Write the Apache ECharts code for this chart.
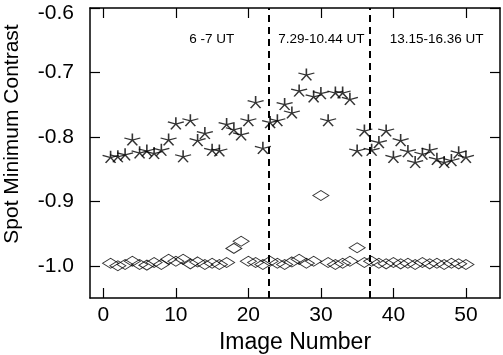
<!DOCTYPE html>
<html>
<head>
<meta charset="utf-8">
<style>
  html, body { margin: 0; padding: 0; background: #fff; }
  #chart { width: 503px; height: 355px; }
</style>
<script src="https://cdn.jsdelivr.net/npm/echarts@6/dist/echarts.min.js"></script>
</head>
<body>
<div id="chart"></div>
<script>
const imageNumbers = [
  1, 2, 3, 4, 5, 6, 7, 8, 9, 10, 11, 12, 13, 14, 15, 16, 17, 18, 19, 20, 21, 22, 23, 24, 25,
  26, 27, 28, 29, 30, 31, 32, 33, 34, 35, 36, 37, 38, 39, 40, 41, 42, 43, 44, 45, 46, 47, 48, 49, 50
]

// asterisks (upper group)
const starValues = [
  -0.831, -0.830, -0.827, -0.804, -0.824, -0.821, -0.825, -0.820, -0.804, -0.779,
  -0.830, -0.774, -0.805, -0.794, -0.820, -0.821, -0.780, -0.788, -0.796, -0.774,
  -0.746, -0.817, -0.777, -0.774, -0.749, -0.762, -0.728, -0.703, -0.737, -0.732,
  -0.774, -0.731, -0.731, -0.741, -0.821, -0.790, -0.820, -0.808, -0.790, -0.831,
  -0.805, -0.822, -0.839, -0.826, -0.820, -0.834, -0.839, -0.836, -0.824, -0.831
]

// diamonds (lower group)
const diamondValues = [
  -0.996, -1.000, -0.998, -0.993, -0.998, -0.999, -0.995, -0.998, -0.990, -0.993,
  -0.990, -0.997, -0.994, -0.998, -0.996, -0.998, -0.995, -0.973, -0.962, -0.993,
  -0.995, -0.998, -0.993, -0.996, -0.998, -0.994, -0.990, -0.996, -0.993, -0.891,
  -0.995, -0.998, -0.996, -0.993, -0.972, -0.995, -0.993, -0.996, -0.997, -0.995,
  -0.997, -0.996, -0.998, -0.995, -0.997, -0.996, -0.998, -0.996, -0.997, -0.998
]

const xTicks = [0, 10, 20, 30, 40, 50]
const yTicks = [-1.0, -0.9, -0.8, -0.7, -0.6]

// dashed separators between observing periods
const breaks = [22.8, 36.7]
const periodLabels = ['6 -7 UT', '7.29-10.44 UT', '13.15-16.36 UT']
const periodLabelX = [14.95, 30.07, 45.95]
const periodLabelY = -0.6488

const font = '"Liberation Sans", Arial, Helvetica, sans-serif'
const starPath = 'path://M0 -10 L0 0 M-9.5 -3.1 L0 0 L9.5 -3.1 M-5.9 8.1 L0 0 L5.9 8.1'

const pair = (xs, ys) => xs.map((x, i) => [x, ys[i]])

const frameAxis = {
  axisLine: { show: true, onZero: false, lineStyle: { color: '#000', width: 1.5 } },
  axisTick: { show: true, inside: true, length: 10, lineStyle: { color: '#000', width: 1.2 } },
  splitLine: { show: false }
}

const chart = echarts.init(document.getElementById('chart'))

chart.setOption({
  animation: false,
  backgroundColor: '#fff',
  grid: { left: 90, top: 8, right: 3, bottom: 57, containLabel: false, outerBoundsMode: 'none' },
  xAxis: [
    {
      type: 'value',
      min: -1.84,
      max: 54.7,
      position: 'bottom',
      ...frameAxis,
      axisTick: { ...frameAxis.axisTick, customValues: xTicks },
      axisLabel: {
        customValues: xTicks,
        margin: 7,
        color: '#000',
        fontSize: 21,
        fontFamily: font
      },
      name: 'Image Number',
      nameLocation: 'middle',
      nameGap: 30,
      nameTextStyle: { color: '#000', fontSize: 23, fontFamily: font }
    },
    {
      type: 'value',
      min: -1.84,
      max: 54.7,
      position: 'top',
      ...frameAxis,
      axisTick: { ...frameAxis.axisTick, customValues: xTicks },
      axisLabel: { show: false }
    }
  ],
  yAxis: [
    {
      type: 'value',
      min: -1.05,
      max: -0.6,
      position: 'left',
      ...frameAxis,
      axisTick: { ...frameAxis.axisTick, customValues: yTicks },
      axisLabel: {
        customValues: yTicks,
        margin: 16,
        color: '#000',
        fontSize: 21,
        fontFamily: font,
        formatter: v => v === -0.6 ? '{top|-0.6}' : v.toFixed(1),
        rich: { top: { fontSize: 21, fontFamily: font, color: '#000', padding: [11, 0, 0, 0] } }
      },
      name: 'Spot Minimum Contrast',
      nameLocation: 'middle',
      nameGap: 67,
      nameRotate: 90,
      nameTextStyle: { color: '#000', fontSize: 21, fontFamily: font, padding: [0, 0, 0, 38] }
    },
    {
      type: 'value',
      min: -1.05,
      max: -0.6,
      position: 'right',
      ...frameAxis,
      axisTick: { ...frameAxis.axisTick, customValues: yTicks },
      axisLabel: { show: false }
    }
  ],
  series: [
    {
      name: 'stars',
      type: 'scatter',
      data: pair(imageNumbers, starValues),
      symbol: starPath,
      symbolSize: [16, 12],
      itemStyle: { color: 'none', borderColor: '#000', borderWidth: 1.4 },
      markLine: {
        silent: true,
        symbol: ['none', 'none'],
        label: { show: false },
        lineStyle: { color: '#000', type: [7, 5], width: 2 },
        data: breaks.map(b => ({ xAxis: b }))
      },
      markPoint: {
        silent: true,
        symbol: 'circle',
        symbolSize: 1,
        itemStyle: { color: 'rgba(0,0,0,0)' },
        data: periodLabels.map((t, i) => ({
          coord: [periodLabelX[i], periodLabelY],
          label: {
            show: true,
            formatter: t,
            position: 'inside',
            color: '#000',
            fontSize: 13.5,
            fontFamily: font
          }
        }))
      }
    },
    {
      name: 'diamonds',
      type: 'scatter',
      data: pair(imageNumbers, diamondValues),
      symbol: 'diamond',
      symbolSize: [16, 10],
      itemStyle: { color: 'none', borderColor: '#000', borderWidth: 1 }
    }
  ]
})
</script>
</body>
</html>
